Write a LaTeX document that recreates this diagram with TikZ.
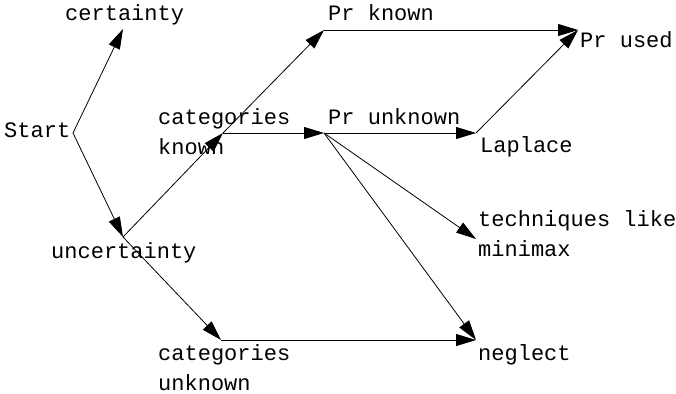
\documentclass[tikz,border=0pt]{standalone}
\usepackage{fontspec}
\setmonofont{Liberation Mono}
\usetikzlibrary{arrows.meta}
\begin{document}
\begin{tikzpicture}[x=1pt,y=-1pt,
  lbl/.style={anchor=base west,inner sep=0pt,font=\fontsize{22}{30}\selectfont\ttfamily,align=left},
  conn/.style={line width=0.8pt,-{Triangle[length=20pt,width=12pt]}}]
\useasboundingbox (0,0) rectangle (676,393);
% junction points
\coordinate (start) at (73,133);
\coordinate (cert) at (123,29);
\coordinate (unc) at (123,237);
\coordinate (catk) at (223,133);
\coordinate (catu) at (221,340);
\coordinate (prk) at (324,30);
\coordinate (pru) at (324,133);
\coordinate (used) at (578,30);
\coordinate (lap) at (476,133);
\coordinate (tech) at (476,239);
\coordinate (negl) at (476,340);
% labels (base = baseline of last line)
\node[lbl] (tstart) at (4,137) {Start};
\node[lbl] (tcert) at (65,21) {certainty};
\node[lbl] (tunc) at (51,258) {uncertainty};
\node[lbl] (tcatk) at (158,154) {categories\\known};
\node[lbl] (tcatu) at (158,390) {categories\\unknown};
\node[lbl] (tprk) at (328,21) {Pr known};
\node[lbl] (tpru) at (328,124) {Pr unknown};
\node[lbl] (tused) at (580,48) {Pr used};
\node[lbl] (tlap) at (480,152) {Laplace};
\node[lbl] (ttech) at (478,256) {techniques like\\minimax};
\node[lbl] (tnegl) at (478,360) {neglect};
% connectors
\draw[conn] (start) -- (cert);
\draw[conn] (start) -- (unc);
\draw[conn] (unc) -- (catk);
\draw[conn] (unc) -- (catu);
\draw[conn] (catk) -- (prk);
\draw[conn] (catk) -- (pru);
\draw[conn] (prk) -- (used);
\draw[conn] (pru) -- (lap);
\draw[conn] (lap) -- (used);
\draw[conn] (pru) -- (tech);
\draw[conn] (pru) -- (negl);
\draw[conn] (catu) -- (negl);
\end{tikzpicture}
\end{document}
